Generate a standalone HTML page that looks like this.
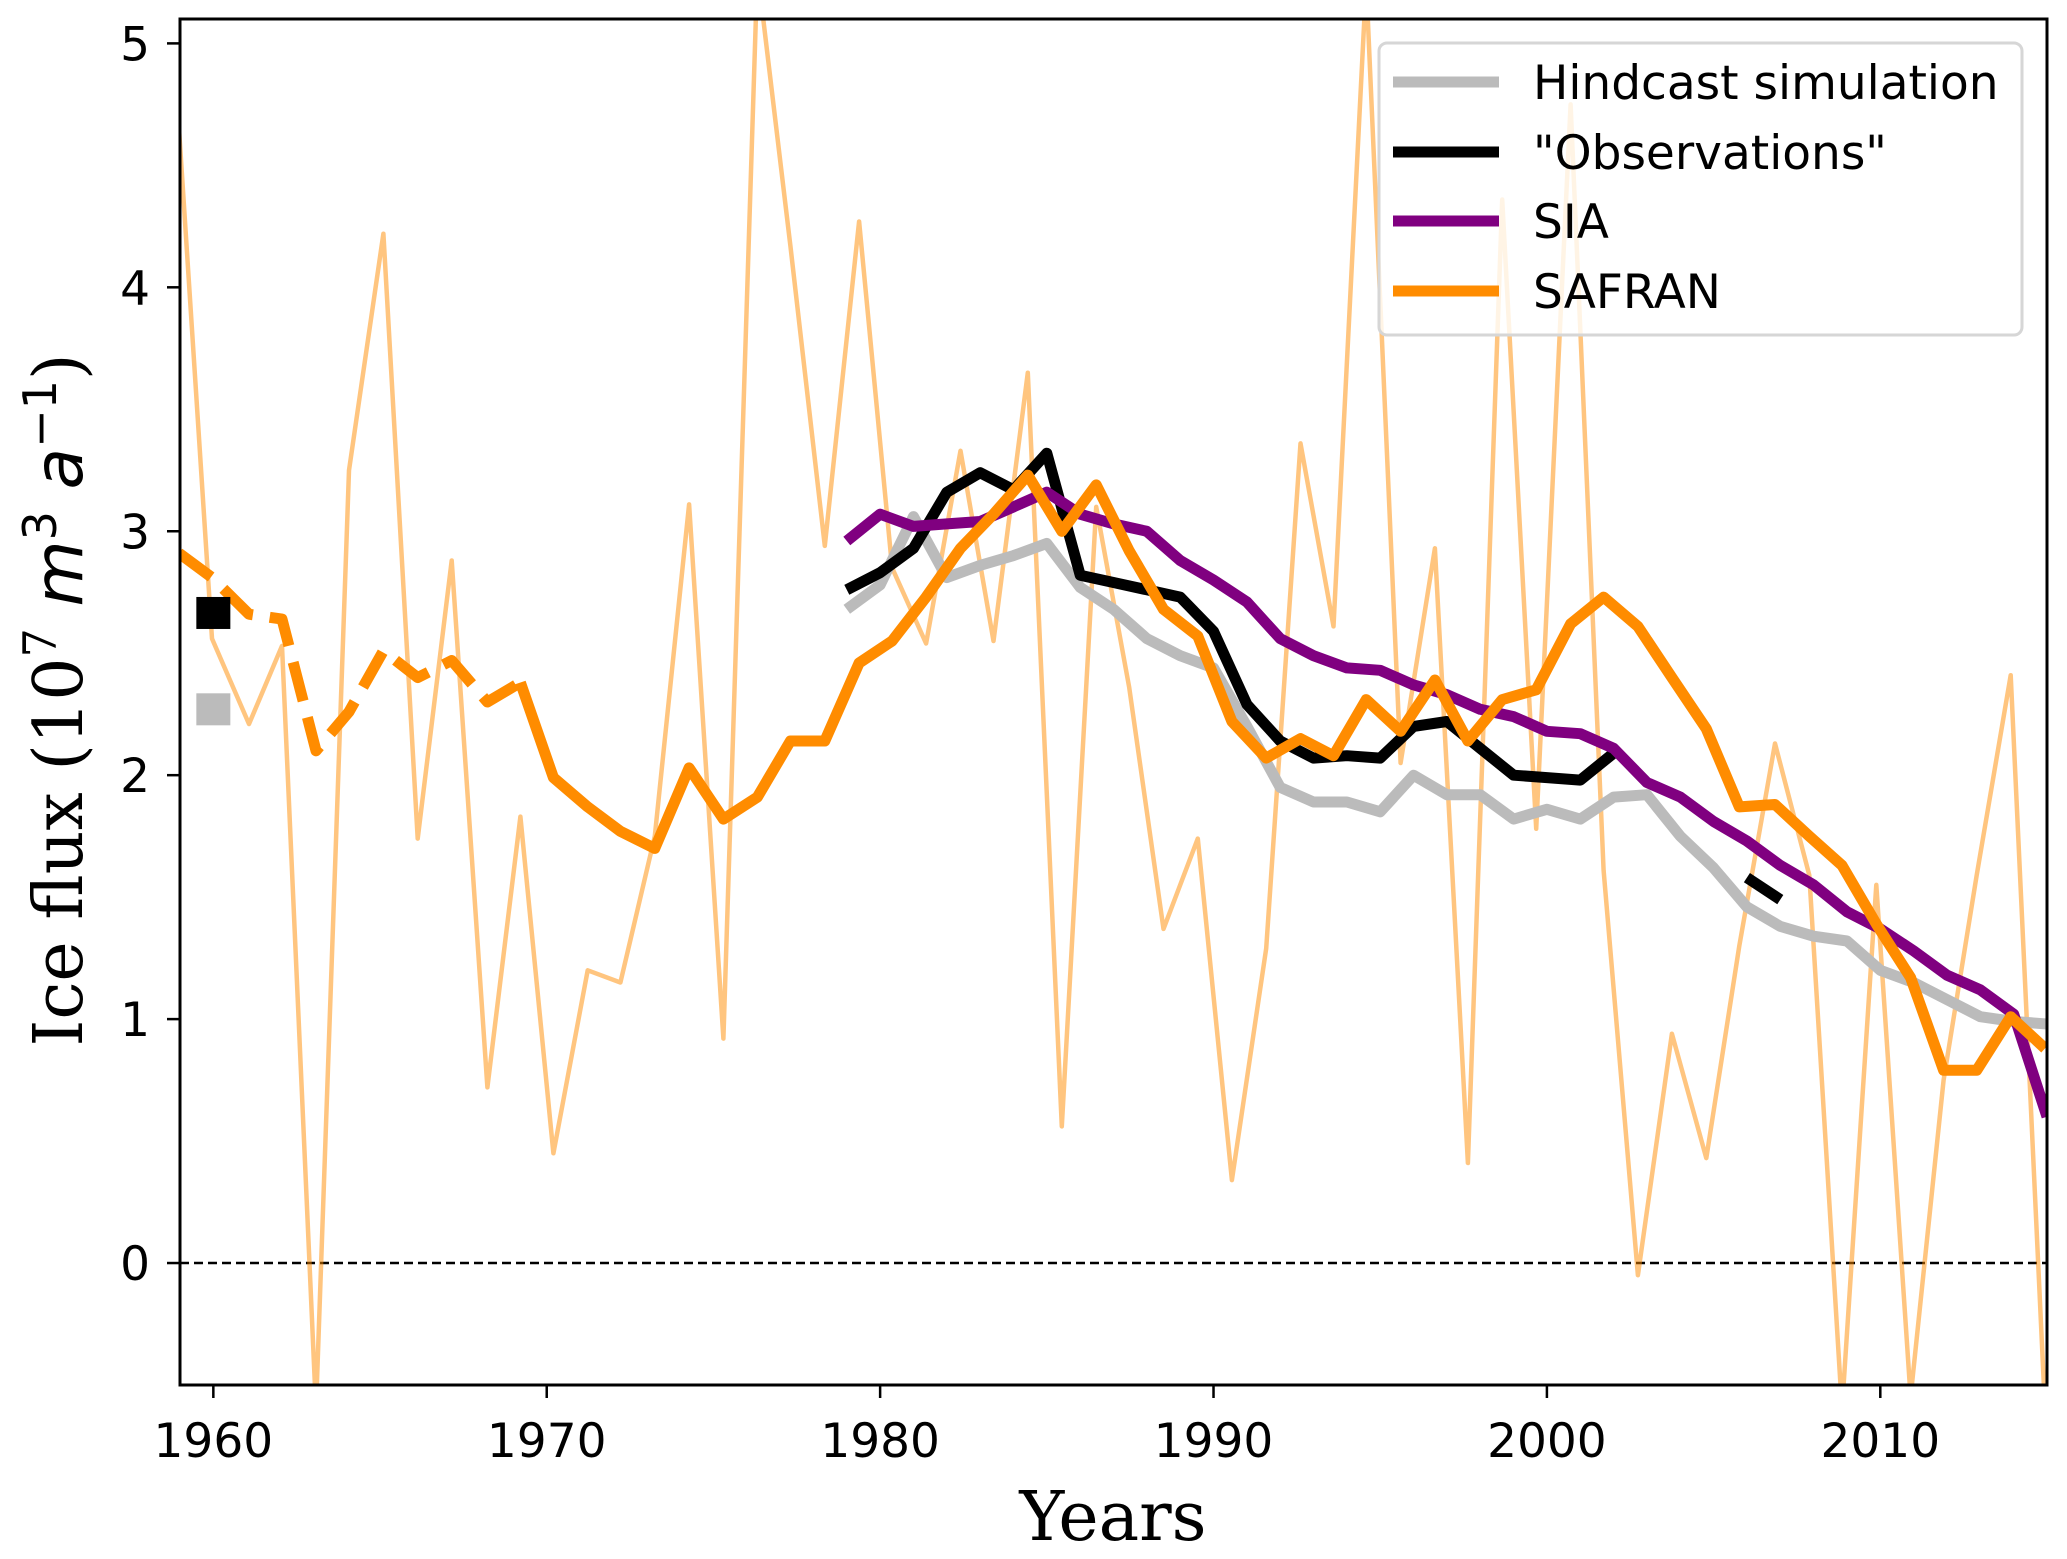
<!DOCTYPE html>
<html><head><meta charset="utf-8"><style>
html,body{margin:0;padding:0;background:#fff;}
svg{display:block;}
</style></head><body>
<svg id="chart" width="2067" height="1559" viewBox="0 0 2067 1559" xmlns="http://www.w3.org/2000/svg">
<defs><clipPath id="plotclip"><rect x="180" y="19" width="1867" height="1366"/></clipPath></defs>
<rect x="0" y="0" width="2067" height="1559" fill="#fff"/>
<g id="marks" clip-path="url(#plotclip)"></g>
<g id="axes"></g>
<text x="1113" y="1540" font-family="DejaVu Serif, Liberation Serif, serif" font-size="68" text-anchor="middle">Years</text>
<text transform="translate(82,700) rotate(-90)" font-family="DejaVu Serif, Liberation Serif, serif" font-size="68" text-anchor="middle">Ice flux (10<tspan font-size="46" dy="-26">7</tspan><tspan dy="26" font-family="DejaVu Sans, Liberation Sans, sans-serif" font-style="italic"> m</tspan><tspan font-size="46" dy="-26" font-family="DejaVu Sans, Liberation Sans, sans-serif">3</tspan><tspan dy="26" font-family="DejaVu Sans, Liberation Sans, sans-serif" font-style="italic"> a</tspan><tspan font-size="46" dy="-26" font-family="DejaVu Sans, Liberation Sans, sans-serif">−1</tspan><tspan dy="26">)</tspan></text>
<g id="legend">
<rect x="1379" y="43" width="643" height="292" rx="8" fill="#fff" fill-opacity="0.8" stroke="#d6d6d6" stroke-width="3"/>
</g>
</svg>
<script>
// shared x positions (decimal years) of SAFRAN series
const safranYears = [1958.97,1959.96,1961.07,1962.06,1963.08,1964.07,1965.10,1966.13,1967.15,1968.22,1969.21,1970.20,1971.23,1972.21,1973.24,1974.27,1975.30,1976.32,1977.31,1978.34,1979.37,1980.36,1981.38,1982.41,1983.40,1984.43,1985.45,1986.48,1987.47,1988.50,1989.53,1990.55,1991.58,1992.61,1993.60,1994.58,1995.61,1996.64,1997.63,1998.66,1999.68,2000.71,2001.70,2002.73,2003.75,2004.78,2005.77,2006.84,2007.87,2008.85,2009.88,2010.91,2011.90,2012.89,2013.91,2014.94];
const safranAnnual = [4.65,2.56,2.21,2.53,-0.6,3.25,4.22,1.74,2.88,0.72,1.83,0.45,1.20,1.15,1.75,3.11,0.92,5.3,4.17,2.94,4.27,2.85,2.54,3.33,2.55,3.65,0.56,3.10,2.36,1.37,1.74,0.34,1.29,3.36,2.61,5.25,2.05,2.93,0.41,4.36,1.78,4.75,1.61,-0.05,0.94,0.43,1.30,2.13,1.59,-0.6,1.55,-0.55,0.75,1.59,2.41,-0.6];
const safranSmooth = [2.91,2.81,2.66,2.64,2.10,2.26,2.51,2.40,2.47,2.30,2.38,1.99,1.87,1.77,1.70,2.03,1.82,1.91,2.14,2.14,2.46,2.55,2.73,2.93,3.07,3.23,3.00,3.19,2.92,2.68,2.57,2.22,2.07,2.15,2.08,2.31,2.18,2.39,2.14,2.31,2.35,2.62,2.73,2.61,2.40,2.19,1.87,1.88,1.75,1.63,1.39,1.17,0.79,0.79,1.01,0.88];
const safranDashedEnd = 10; // index where dashed part ends
const modelYears = [1979,1980,1981,1982,1983,1984,1985,1986,1987,1988,1989,1990,1991,1992,1993,1994,1995,1996,1997,1998,1999,2000,2001,2002,2003,2004,2005,2006,2007,2008,2009,2010,2011,2012,2013,2014,2015];
const hindcast = [2.68,2.78,3.06,2.81,2.86,2.90,2.95,2.77,2.68,2.56,2.49,2.44,2.20,1.95,1.89,1.89,1.85,2.00,1.92,1.92,1.82,1.86,1.82,1.91,1.92,1.75,1.62,1.46,1.38,1.34,1.32,1.20,1.15,1.08,1.01,0.99,0.98];
const sia = [2.96,3.07,3.02,3.03,3.04,3.10,3.16,3.07,3.03,3.00,2.88,2.80,2.71,2.56,2.49,2.44,2.43,2.37,2.33,2.27,2.24,2.18,2.17,2.11,1.97,1.91,1.81,1.73,1.63,1.55,1.44,1.37,1.28,1.18,1.12,1.02,0.60];
const obsYears = [1979,1980,1981,1982,1983,1984,1985,1986,1987,1988,1989,1990,1991,1992,1993,1994,1995,1996,1997,1998,1999,2000,2001,2002];
const obs = [2.76,2.83,2.93,3.16,3.24,3.17,3.32,2.82,2.79,2.76,2.73,2.59,2.29,2.14,2.07,2.08,2.07,2.20,2.22,2.11,2.00,1.99,1.98,2.09];
const obsLateYears = [2006,2007];
const obsLate = [1.58,1.49];
const earlyYear = [1960];
const obsEarly = [2.665];
const hindEarly = [2.27];
const xTicks = [1960,1970,1980,1990,2000,2010];
const yTicks = [0,1,2,3,4,5];
const legendLabels = ["Hindcast simulation","\"Observations\"","SIA","SAFRAN"];
const legendColors = ["#bbbbbb","#000000","#800080","#ff8c00"];

const NS="http://www.w3.org/2000/svg";
const L=180,R=2047,T=19,B=1385,X0=1959,X1=2015,Y0=-0.5,Y1=5.1;
function sx(v){return L+(v-X0)/(X1-X0)*(R-L);}
function sy(v){return B-(v-Y0)/(Y1-Y0)*(B-T);}
function mk(tag,attrs,parent){const e=document.createElementNS(NS,tag);for(const k in attrs)e.setAttribute(k,attrs[k]);parent.appendChild(e);return e;}
const marks=document.getElementById('marks');
const axes=document.getElementById('axes');
function pts(xs,ys,a,b){let s=[];for(let i=a;i<=b;i++)s.push(sx(xs[i]).toFixed(1)+','+sy(ys[i]).toFixed(1));return s.join(' ');}

// zero line
let z=mk('line',{x1:L,x2:R,y1:sy(0),y2:sy(0),stroke:'#000','stroke-width':2.5,'stroke-dasharray':'9,5'},marks);



let e;
e=mk('polyline',{points:pts(safranYears,safranAnnual,0,safranAnnual.length-1),fill:'none',stroke:'#ff8c00','stroke-opacity':0.5,'stroke-width':4.5,'stroke-linejoin':'round'},marks);



e=mk('polyline',{points:pts(modelYears,hindcast,0,hindcast.length-1),fill:'none',stroke:'#bbbbbb','stroke-width':11,'stroke-linejoin':'round'},marks);



e=mk('polyline',{points:pts(obsYears,obs,0,obs.length-1),fill:'none',stroke:'#000','stroke-width':11,'stroke-linejoin':'round'},marks);


e=mk('polyline',{points:pts(obsLateYears,obsLate,0,obsLate.length-1),fill:'none',stroke:'#000','stroke-width':11},marks);



e=mk('polyline',{points:pts(modelYears,sia,0,sia.length-1),fill:'none',stroke:'#800080','stroke-width':11,'stroke-linejoin':'round'},marks);



e=mk('polyline',{points:pts(safranYears,safranSmooth,0,safranDashedEnd),fill:'none',stroke:'#ff8c00','stroke-width':11,'stroke-dasharray':'40,17','stroke-linejoin':'round'},marks);


e=mk('polyline',{points:pts(safranYears,safranSmooth,safranDashedEnd,safranSmooth.length-1),fill:'none',stroke:'#ff8c00','stroke-width':11,'stroke-linejoin':'round'},marks);



for(let i=0;i<earlyYear.length;i++){
  e=mk('rect',{x:sx(earlyYear[i])-17,y:sy(obsEarly[i])-16,width:34,height:32,fill:'#000'},marks);
  
  
  e=mk('rect',{x:sx(earlyYear[i])-17,y:sy(hindEarly[i])-16,width:34,height:32,fill:'#bbbbbb'},marks);
  
  
}

// frame
e=mk('rect',{x:L,y:T,width:R-L,height:B-T,fill:'none',stroke:'#000','stroke-width':3},axes);


const FONT='DejaVu Sans, Liberation Sans, sans-serif';
xTicks.forEach(t=>{
  let l=mk('line',{x1:sx(t),x2:sx(t),y1:B,y2:B+13,stroke:'#000','stroke-width':2.5},axes);
  
  
  let tx=mk('text',{x:sx(t),y:1457,'font-family':FONT,'font-size':47,'text-anchor':'middle'},axes);
  tx.textContent=t;
  
  
});
yTicks.forEach(t=>{
  let l=mk('line',{x1:L-13,x2:L,y1:sy(t),y2:sy(t),stroke:'#000','stroke-width':2.5},axes);
  
  
  let tx=mk('text',{x:150,y:sy(t)+17,'font-family':FONT,'font-size':47,'text-anchor':'end'},axes);
  tx.textContent=t;
  
  
});
// legend
const lg=document.getElementById('legend');
const ly=[82,152,221,291];
legendLabels.forEach((s,i)=>{
  let l=mk('line',{x1:1393,x2:1499,y1:ly[i],y2:ly[i],stroke:legendColors[i],'stroke-width':11},lg);
  
  
  let tx=mk('text',{x:1533,y:ly[i]+17,'font-family':FONT,'font-size':47},lg);
  tx.textContent=s;
  
  
});
</script>
</body></html>
